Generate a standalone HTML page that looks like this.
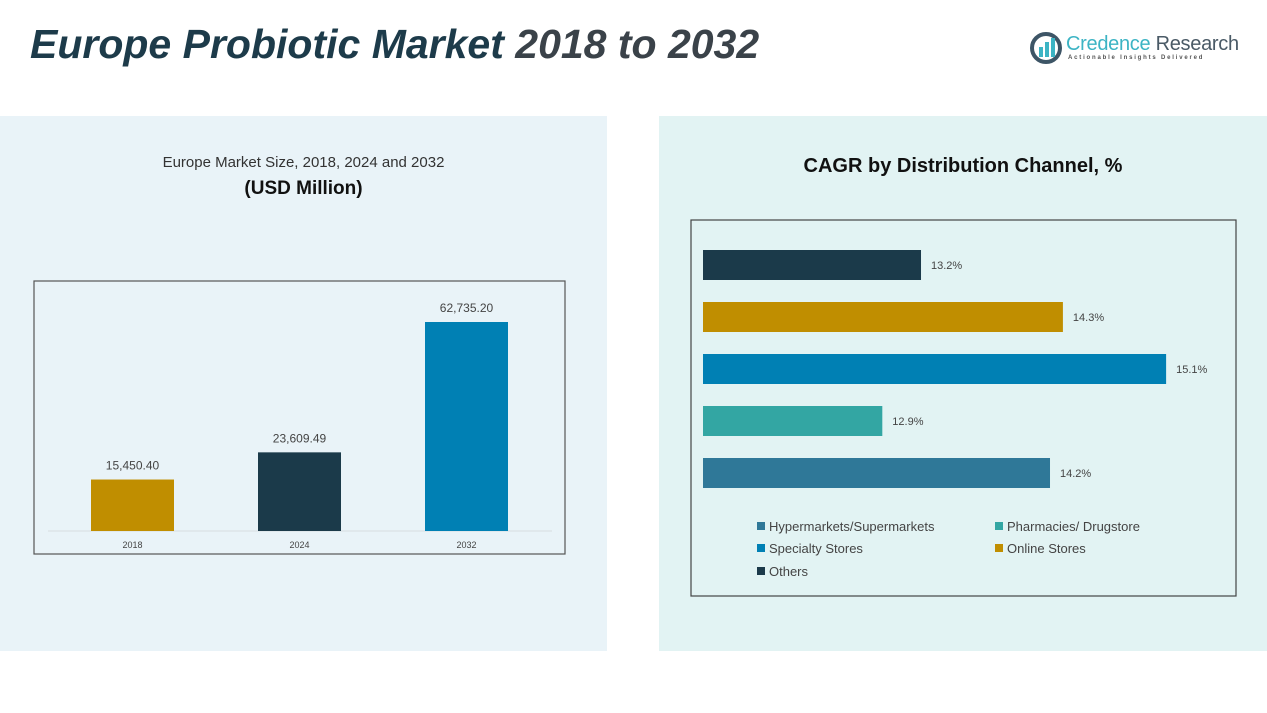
<!DOCTYPE html>
<html><head><meta charset="utf-8"><style>
body{margin:0;width:1267px;height:713px;background:#fff;position:relative;overflow:hidden;font-family:"Liberation Sans",sans-serif}
.abs{position:absolute}
</style></head><body>
<div class="abs" style="left:0;top:116px;width:607px;height:535px;background:#e9f3f8"></div>
<div class="abs" style="left:659px;top:116px;width:608px;height:535px;background:#e2f3f3"></div>
<div class="abs" style="left:30px;top:21px;font-size:41px;font-weight:bold;font-style:italic;color:#1d3b4a;white-space:nowrap">Europe Probiotic Market <span style="color:#3a4249">2018 to 2032</span></div>
<div class="abs" style="left:1030px;top:32px;width:210px;height:36px">
<svg width="34" height="34" style="position:absolute;left:0;top:0"><circle cx="16" cy="16" r="14" fill="none" stroke="#3d5566" stroke-width="4"/><rect x="9" y="15" width="4" height="10" fill="#3cb4c4"/><rect x="15" y="10" width="4" height="15" fill="#3cb4c4"/><rect x="21" y="6" width="4" height="19" fill="#3cb4c4"/></svg>
<div class="abs" style="left:36px;top:1px;font-size:20px;color:#3cb4c4;white-space:nowrap;letter-spacing:-0.3px">Credence <span style="color:#4a5a66">Research</span></div>
<div class="abs" style="left:38px;top:23px;font-size:6px;letter-spacing:1.8px;color:#555;white-space:nowrap;font-weight:bold">Actionable Insights Delivered</div>
</div>
<div class="abs" style="left:0;width:607px;top:154px;text-align:center;font-size:15px;color:#333">Europe Market Size, 2018, 2024 and 2032</div>
<div class="abs" style="left:0;width:607px;top:178px;text-align:center;font-size:19px;font-weight:bold;color:#111">(USD Million)</div>
<div class="abs" style="left:659px;width:608px;top:155px;text-align:center;font-size:20px;font-weight:bold;color:#111">CAGR by Distribution Channel, %</div>
<svg class="abs" style="left:0;top:0" width="1267" height="713" id="chart">
<rect x="34" y="281" width="531" height="273" fill="none" stroke="#555" stroke-width="1.2"/>
<line x1="48" y1="531" x2="552" y2="531" stroke="#d8dde0"/>
<rect x="691" y="220" width="545" height="376" fill="none" stroke="#444" stroke-width="1.2"/>
</svg>
<script>
const years=["2018","2024","2032"];
const sizes=[15450.40,23609.49,62735.20];
const sizeLabels=["15,450.40","23,609.49","62,735.20"];
const channels=["Others","Online Stores","Specialty Stores","Pharmacies/ Drugstore","Hypermarkets/Supermarkets"];
const cagr=[13.2,14.3,15.1,12.9,14.2];
const cagrLabels=["13.2%","14.3%","15.1%","12.9%","14.2%"];
const barColors=["#c08e00","#1b3a4a","#0080b4"];
const chColors=["#1b3a4a","#c08e00","#0080b4","#33a6a3","#2f7898"];
const svg=document.getElementById('chart');const NS="http://www.w3.org/2000/svg";
function mk(t,a){const e=document.createElementNS(NS,t);for(const k in a)e.setAttribute(k,a[k]);svg.appendChild(e);return e;}
const yv=v=>531-v*(209/62735.2);
years.forEach((y,i)=>{const x=91+i*167;
const r=mk('rect',{x:x,y:yv(sizes[i]),width:83,height:531-yv(sizes[i]),fill:barColors[i]});


const t=mk('text',{x:x+41.5,y:yv(sizes[i])-10,'text-anchor':'middle','font-size':12,fill:'#444','font-family':'Liberation Sans'});t.textContent=sizeLabels[i];


const l=mk('text',{x:x+41.5,y:548,'text-anchor':'middle','font-size':9,fill:'#444','font-family':'Liberation Sans'});l.textContent=y;

});
const xv=v=>703+(v-11.51)*129;
cagr.forEach((v,i)=>{const y=250+i*52;
const r=mk('rect',{x:703,y:y,width:xv(v)-703,height:30,fill:chColors[i]});


const t=mk('text',{x:xv(v)+10,y:y+19,'font-size':11,fill:'#444','font-family':'Liberation Sans'});t.textContent=cagrLabels[i];

});
const leg=[[4,757,531],[3,995,531],[2,757,553],[1,995,553],[0,757,576]];
leg.forEach(([i,x,y])=>{const g=mk('g',{});


const r=document.createElementNS(NS,'rect');r.setAttribute('x',x);r.setAttribute('y',y-9);r.setAttribute('width',8);r.setAttribute('height',8);r.setAttribute('fill',chColors[i]);g.appendChild(r);
const t=document.createElementNS(NS,'text');t.setAttribute('x',x+12);t.setAttribute('y',y);t.setAttribute('font-size',13);t.setAttribute('fill','#444');t.setAttribute('font-family','Liberation Sans');t.textContent=channels[i];g.appendChild(t);});
</script>
</body></html>
